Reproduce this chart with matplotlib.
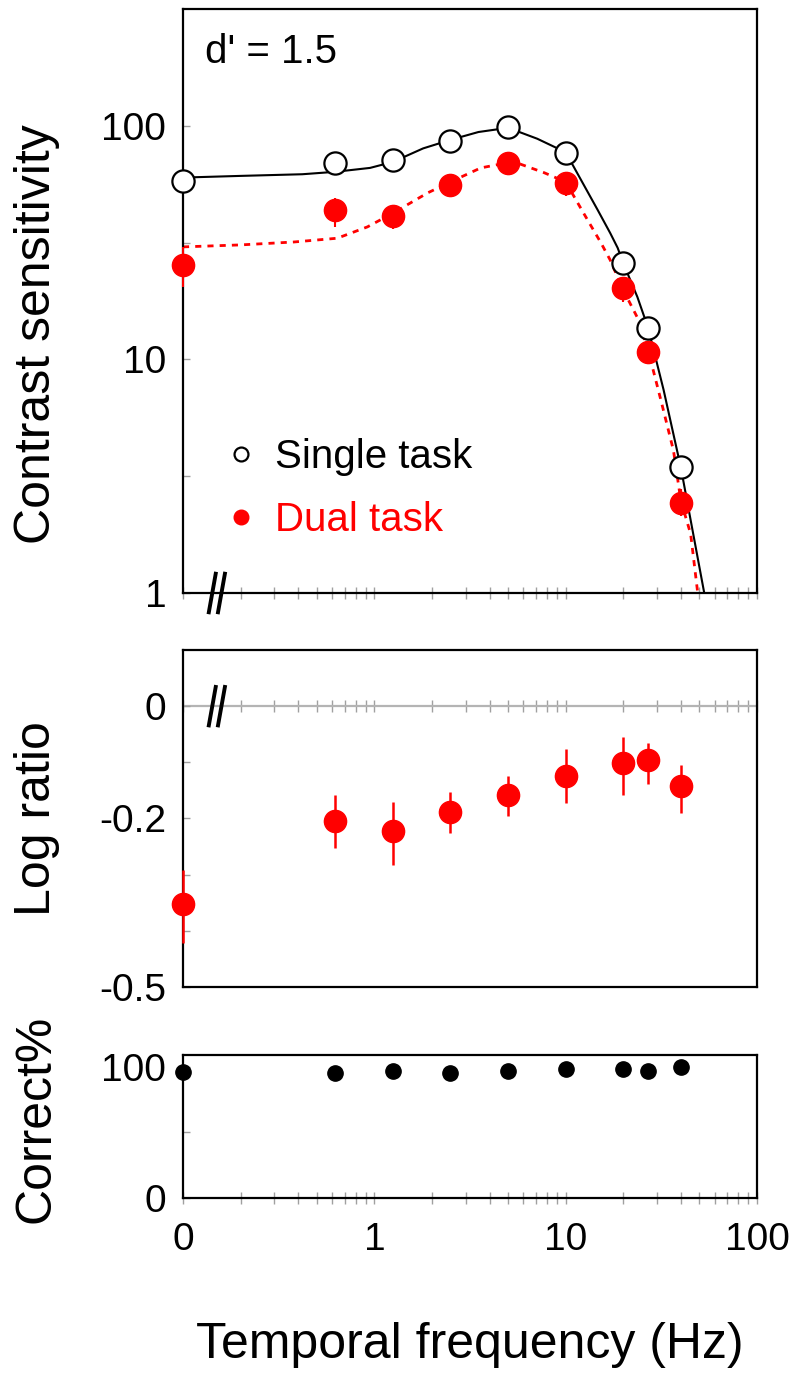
import numpy as np
import matplotlib
matplotlib.use("Agg")
import matplotlib.pyplot as plt
from matplotlib.lines import Line2D

plt.rcParams['font.family'] = ['Liberation Sans', 'DejaVu Sans']

# stimulus temporal frequencies (0 Hz drawn at the left edge, 0.1 on the log axis)
freq = np.array([0, 0.625, 1.25, 2.5, 5, 10, 20, 27, 40])
freq_pos = np.where(freq == 0, 0.1, freq)

# contrast sensitivity
single_cs = np.array([58, 69, 71, 86, 98.6, 76.2, 25.8, 13.6, 3.47])
dual_cs = np.array([25.3, 43.6, 41, 55.8, 69, 57, 20.2, 10.8, 2.43])
dual_lo = np.array([20.4, 37, 36, 51, 62, 50, 17.6, 9.6, 2.14])
dual_hi = np.array([30.3, 49, 45, 60, 76, 63, 22.5, 12, 2.8])

# fitted curves
single_fit_f = [0.1, 0.2, 0.42, 0.625, 0.95, 1.25, 1.8, 2.5, 3.5, 5, 7.1, 10,
                14.7, 17.1, 18.7, 20, 23.7, 27, 32.5, 40, 53]
single_fit_cs = [60, 61, 62, 63.5, 66, 70, 80, 87, 94, 98, 88, 77,
                 43.6, 34.7, 30, 25.8, 18.5, 13.6, 7.4, 3.44, 1.0]
dual_fit_f = [0.1, 0.2, 0.38, 0.64, 0.92, 1.26, 1.9, 2.8, 3.6, 5, 5.8, 7.7, 10,
              12.4, 15.3, 17.1, 20, 23.7, 27, 31.5, 36.6, 40, 45, 49]
dual_fit_cs = [30.3, 30.9, 31.8, 33, 36.9, 42.4, 51.6, 60, 66, 69.5, 68.5, 63, 57.5,
               42.3, 31.5, 26.6, 19.8, 15.1, 10.9, 6.66, 4.07, 2.48, 1.79, 1.0]

# log ratio dual / single
ratio = np.array([-0.352, -0.204, -0.223, -0.188, -0.159, -0.125, -0.102, -0.096, -0.143])
ratio_lo = np.array([-0.421, -0.252, -0.282, -0.225, -0.196, -0.173, -0.159, -0.139, -0.191])
ratio_hi = np.array([-0.291, -0.159, -0.171, -0.152, -0.125, -0.077, -0.055, -0.065, -0.104])

# secondary task percent correct
correct = np.array([96, 95, 97, 95, 97, 98.5, 98.5, 97, 100])

xticks = [0.1, 1, 10, 100]
xticklabels = ['0', '1', '10', '100']
xminor = [m * d for d in (0.1, 1, 10) for m in range(2, 10)]

RED = '#ff0000'
GREY = '#a0a0a0'
TICK_FS = 28
LABEL_FS = 36
YLAB_X = -0.215


def style_xaxis(ax, labels):
    ax.set_xscale('log')
    ax.set_xlim(0.1, 100)
    ax.set_xticks(xticks)
    ax.set_xticks(xminor, minor=True)
    ax.set_xticklabels(xticklabels if labels else [])
    ax.set_xticklabels([], minor=True)
    ax.tick_params(axis='x', which='both', direction='inout', length=9,
                   width=1, color=GREY, labelsize=TICK_FS, pad=13, top=False)


def style_yaxis(ax):
    ax.tick_params(axis='y', which='both', direction='in', length=5, width=1,
                   color=GREY, labelsize=TICK_FS, pad=12, right=False)


def draw_break(ax, y_axes, half_h):
    # "//" axis break
    for dx in (0.0, 0.016):
        ax.plot([0.045 + dx, 0.057 + dx], [y_axes - half_h, y_axes + half_h],
                color='black', lw=2.8, clip_on=False, zorder=6,
                transform=ax.transAxes)


fig = plt.figure(figsize=(7.95, 13.75), dpi=100)
left, width = 183 / 795, 574 / 795

# --- top: contrast sensitivity ---
ax1 = fig.add_axes([left, 1 - 593 / 1375, width, 584 / 1375])
ax1.set_yscale('log')
ax1.set_ylim(1, 316)
ax1.plot(single_fit_f, single_fit_cs, color='black', lw=1.5, zorder=2)
ax1.plot(dual_fit_f, dual_fit_cs, color=RED, lw=2, ls=(0, (2.2, 2.2)), zorder=2)
ax1.errorbar(freq_pos, dual_cs, yerr=[dual_cs - dual_lo, dual_hi - dual_cs],
             fmt='o', color=RED, ms=16, mec=RED, elinewidth=1.5, capsize=0,
             zorder=3, clip_on=False)
ax1.plot(freq_pos, single_cs, 'o', ms=16, mfc='white', mec='black', mew=1.6,
         zorder=4, clip_on=False)
style_xaxis(ax1, False)
ax1.set_yticks([1, 3.162, 10, 31.62, 100])
ax1.set_yticklabels(['1', '', '10', '', '100'])
ax1.yaxis.set_minor_locator(matplotlib.ticker.NullLocator())
style_yaxis(ax1)
ax1.set_ylabel('Contrast sensitivity', fontsize=LABEL_FS)
ax1.yaxis.set_label_coords(YLAB_X, 0.443)
ax1.text(0.038, 0.926, "d' = 1.5", transform=ax1.transAxes, fontsize=29,
         va='center', ha='left')
handles = [Line2D([], [], ls='none', marker='o', ms=10, mfc='white', mec='black', mew=1.6),
           Line2D([], [], ls='none', marker='o', ms=10.5, mfc=RED, mec=RED)]
ax1.legend(handles, ['Single task', 'Dual task'], loc='upper left',
           bbox_to_anchor=(0.08, 0.265), frameon=False, fontsize=29,
           handlelength=0.6, handletextpad=0.55, labelspacing=0.62,
           borderpad=0, borderaxespad=0, labelcolor=['black', RED])
draw_break(ax1, 0.0, 0.033)

# --- middle: log ratio ---
ax2 = fig.add_axes([left, 1 - 987 / 1375, width, 337 / 1375])
ax2.set_ylim(-0.5, 0.1)
ax2.axhline(0, color='#b4b4b4', lw=1.6, zorder=1)
ax2.errorbar(freq_pos, ratio, yerr=[ratio - ratio_lo, ratio_hi - ratio],
             fmt='o', color=RED, ms=16, mec=RED, elinewidth=1.8, capsize=0,
             zorder=3, clip_on=False)
ax2.set_xscale('log')
ax2.set_xlim(0.1, 100)
ax2.xaxis.set_major_locator(matplotlib.ticker.NullLocator())
ax2.xaxis.set_minor_locator(matplotlib.ticker.NullLocator())
ax2.set_yticks(np.round(np.arange(-0.5, 0.01, 0.1), 1))
ax2.set_yticklabels(['-0.5', '', '', '-0.2', '', '0'])
style_yaxis(ax2)
zero = ax2.secondary_xaxis(0.5 / 0.6)
for sp in zero.spines.values():
    sp.set_visible(False)
zero.set_xticks(xticks)
zero.set_xticks(xminor, minor=True)
zero.set_xticklabels([])
zero.set_xticklabels([], minor=True)
zero.tick_params(axis='x', which='both', direction='inout', length=9, width=1,
                 color=GREY, labelbottom=False)
ax2.set_ylabel('Log ratio', fontsize=LABEL_FS)
ax2.yaxis.set_label_coords(YLAB_X, 0.5)
draw_break(ax2, 0.5 / 0.6, 0.057)

# --- bottom: percent correct ---
ax3 = fig.add_axes([left, 1 - 1198 / 1375, width, 143 / 1375])
ax3.set_ylim(0, 109)
ax3.plot(freq_pos, correct, 'o', color='black', ms=11, zorder=3, clip_on=False)
style_xaxis(ax3, True)
ax3.set_yticks([0, 50, 100])
ax3.set_yticklabels(['0', '', '100'])
style_yaxis(ax3)
ax3.set_ylabel('Correct%', fontsize=LABEL_FS)
ax3.yaxis.set_label_coords(YLAB_X, 0.55)
ax3.set_xlabel('Temporal frequency (Hz)', fontsize=LABEL_FS)
ax3.xaxis.set_label_coords(0.5, -0.87)

for ax in (ax1, ax2, ax3):
    for sp in ax.spines.values():
        sp.set_linewidth(1.6)
        sp.set_color('black')

fig.savefig('out.png', dpi=100)
